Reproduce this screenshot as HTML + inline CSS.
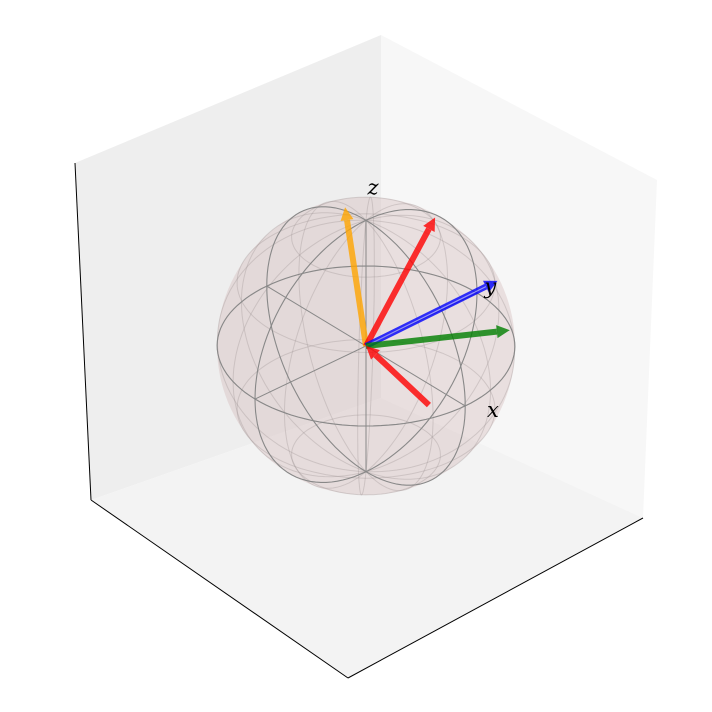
<!DOCTYPE html>
<html><head><meta charset="utf-8"><style>
html,body{margin:0;padding:0;background:#fff;}
svg{display:block;}
text{font-family:"DejaVu Serif","Liberation Serif",serif;font-style:italic;}
</style></head><body>
<svg id="chart" width="712" height="712" viewBox="0 0 712 712">
  <g>
    <polygon points="75,163 381,35 381,398 91,500" fill="#eeeeee" stroke="none"/>
    <polygon points="381,35 657,180 643,518 381,398" fill="#f7f7f7" stroke="none"/>
    <polygon points="91,500 381,398 643,518 348,678" fill="#f3f3f3" stroke="none"/>
    <line x1="75" y1="163" x2="91" y2="500" stroke="#000" stroke-width="1"/>
    <line x1="91" y1="500" x2="348" y2="678" stroke="#000" stroke-width="1"/>
    <line x1="348" y1="678" x2="643" y2="518" stroke="#000" stroke-width="1"/>
  </g>
  <g id="sphere"></g>
  <g id="vectors"></g>
  <g id="labels"></g>
</svg>
<script>
// vector data (Bloch vectors: x, y, z components)
const vecX = [-0.25, -0.07, 0.33, 0.61, 0.83];
const vecY = [0.035, 0.685, 0.89, 0.75, -0.175];
const vecZ = [0.97, 0.70, 0.30, 0.10, 0.00];
const vecColors = ["#ffa500", "#ff0000", "#0000ff", "#008000", "#ff0000"];
const vecReversed = [false, false, false, false, true];
const axisLabels = ["x", "y", "z"];
const labelX = [1.28, 0, 0];
const labelY = [0, 1.12, 0];
const labelZ = [0.1, 0, 1.26];

const NS = "http://www.w3.org/2000/svg";
const cx = 366, cy = 346, R = 149;
const k = R / 151.7;
const EX = [101*k, 61*k], EY = [113*k, -54*k], EZ = [0, -128*k];
function P(x, y, z) { return [cx + EX[0]*x + EY[0]*y + EZ[0]*z, cy + EX[1]*x + EY[1]*y + EZ[1]*z]; }
function mk(tag, attrs, parent) { const e = document.createElementNS(NS, tag); for (const kk in attrs) e.setAttribute(kk, attrs[kk]); parent.appendChild(e); return e; }

const sph = document.getElementById("sphere");
const body = mk("circle", { cx: cx, cy: cy, r: R, fill: "rgba(210,185,185,0.38)", stroke: "none" }, sph);



function curve(fn, stroke, w, name) {
  let d = "";
  for (let i = 0; i <= 120; i++) { const t = i / 120 * 2 * Math.PI; const p = fn(t); d += (i ? "L" : "M") + p[0].toFixed(1) + "," + p[1].toFixed(1); }
  const e = mk("path", { d: d, fill: "none", stroke: stroke, "stroke-width": w }, sph);
  
  
}
for (let j = 1; j < 6; j++) {
  const th = j * Math.PI / 6, z = Math.cos(th), r = Math.sin(th);
  curve(t => P(r * Math.cos(t), r * Math.sin(t), z), "rgba(150,140,140,0.3)", 1, "latitude-line");
}
for (let j = 0; j < 6; j++) {
  const ph = j * Math.PI / 6 + Math.PI / 12;
  curve(t => P(Math.sin(t) * Math.cos(ph), Math.sin(t) * Math.sin(ph), Math.cos(t)), "rgba(150,140,140,0.3)", 1, "longitude-line");
}
curve(t => P(Math.cos(t), Math.sin(t), 0), "#888", 1.1, "equator");
curve(t => P(Math.cos(t), 0, Math.sin(t)), "#888", 1.1, "xz-meridian");
curve(t => P(0, Math.cos(t), Math.sin(t)), "#888", 1.1, "yz-meridian");
[[1,0,0],[0,1,0],[0,0,1]].forEach((a, i) => {
  const p1 = P(a[0], a[1], a[2]), p2 = P(-a[0], -a[1], -a[2]);
  const l = mk("line", { x1: p1[0], y1: p1[1], x2: p2[0], y2: p2[1], stroke: "#888", "stroke-width": 1 }, sph);
  
  
});

const vg = document.getElementById("vectors");
for (let i = 0; i < vecX.length; i++) {
  let a = [cx, cy], b = P(vecX[i], vecY[i], vecZ[i]);
  if (vecReversed[i]) { const t = a; a = b; b = t; }
  const dx = b[0] - a[0], dy = b[1] - a[1], L = Math.hypot(dx, dy), ux = dx / L, uy = dy / L;
  const hl = 13, hw = 6.5;
  const bx = b[0] - ux * hl, by = b[1] - uy * hl;
  const g = mk("g", { opacity: 0.8 }, vg);
  
  
  mk("line", { x1: a[0], y1: a[1], x2: bx, y2: by, stroke: vecColors[i], "stroke-width": 6 }, g);
  mk("polygon", { points: [b[0], b[1], bx - uy * hw, by + ux * hw, bx + uy * hw, by - ux * hw].join(","), fill: vecColors[i] }, g);
  if (vecColors[i] === "#0000ff") {
    mk("line", { x1: a[0], y1: a[1], x2: bx, y2: by, stroke: "#8a8aff", "stroke-width": 1.2 }, g);
  }
}

const lg = document.getElementById("labels");
for (let i = 0; i < axisLabels.length; i++) {
  const p = P(labelX[i], labelY[i], labelZ[i]);
  const t = mk("text", { x: p[0] + (i === 2 ? 7 : 0), y: p[1] + 7, "font-size": 21, "text-anchor": "middle", fill: "#000" }, lg);
  t.textContent = axisLabels[i];
  
  
}
</script>
</body></html>
